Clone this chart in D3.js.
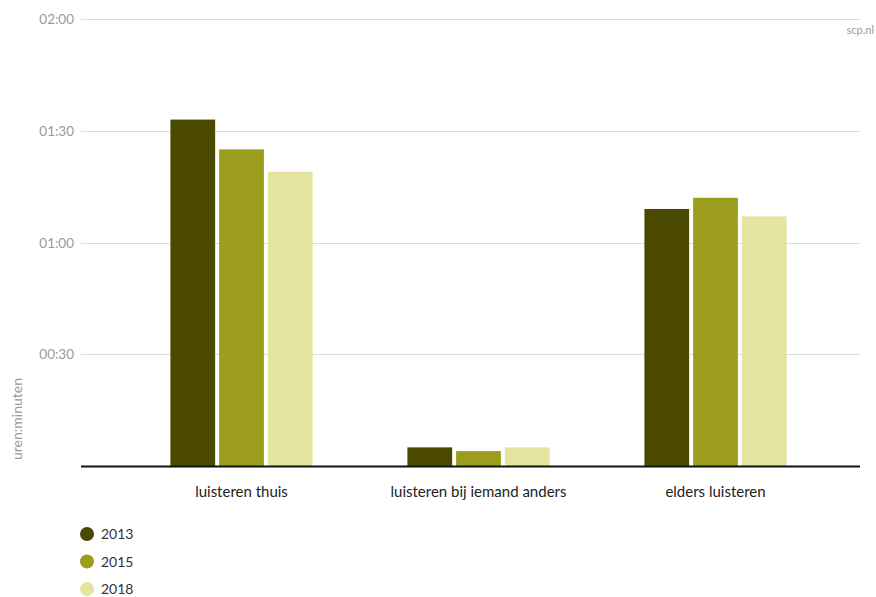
<!DOCTYPE html>
<html><head><meta charset="utf-8">
<script src="https://cdn.jsdelivr.net/npm/d3@7"></script>
<style>body{margin:0;background:#fff}svg{display:block}</style>
</head><body><svg id="c" width="876" height="597"></svg>
<script>
const categories = ["luisteren thuis", "luisteren bij iemand anders", "elders luisteren"];
const years = ["2013", "2015", "2018"];
// minutes
const v2013 = [93, 5, 69];
const v2015 = [85, 4, 72];
const v2018 = [79, 5, 67];
const tickValues = [30, 60, 90, 120];
const tickLabels = ["00:30", "01:00", "01:30", "02:00"];
const colors = ["#4b4900", "#9c9c1d", "#e5e49e"];

const series = [v2013, v2015, v2018];
const svg = d3.select("#c");
const y = d3.scaleLinear().domain([0, 120]).range([466, 19]);
const x0 = d3.scaleBand().domain(categories).range([123, 834]).paddingInner(0.4).paddingOuter(0.2);
const x1 = d3.scaleBand().domain(years).range([0, x0.bandwidth()]).paddingInner(4/49).paddingOuter(0);

const left = 81, right = 860;
// gridlines
svg.append("g").selectAll("line").data(tickValues).join("line")
  .attr("x1", left).attr("x2", right)
  .attr("y1", d => Math.round(y(d)) + 0.5).attr("y2", d => Math.round(y(d)) + 0.5)
  .attr("stroke", "#dcdcdc").attr("stroke-width", 1);
svg.append("g").selectAll("text").data(tickValues).join("text")
  .attr("x", 74).attr("y", d => y(d) + 5)
  .attr("text-anchor", "end").attr("fill", "#9a9a9a")
  .attr("font-family", "Lato, 'Open Sans', sans-serif").attr("font-size", 13.5)
  .text((d, i) => tickLabels[i]);

// bars
const g = svg.append("g");
categories.forEach((c, ci) => {
  years.forEach((yr, yi) => {
    const val = series[yi][ci];
    g.append("rect")
      .attr("x", x0(c) + x1(yr))
      .attr("width", x1.bandwidth())
      .attr("y", y(val))
      .attr("height", y(0) - y(val))
      .attr("fill", colors[yi]);
  });
});

// axis line
svg.append("line").attr("x1", left).attr("x2", right).attr("y1", y(0)+0.5).attr("y2", y(0)+0.5)
  .attr("stroke", "#111").attr("stroke-width", 2);

// category labels
svg.append("g").selectAll("text").data(categories).join("text")
  .attr("x", d => x0(d) + x0.bandwidth()/2).attr("y", 497)
  .attr("text-anchor", "middle").attr("fill", "#222")
  .attr("font-family", "Lato, 'Open Sans', sans-serif").attr("font-size", 15)
  .text(d => d);

// y label
svg.append("text").attr("transform", "translate(22,419) rotate(-90)")
  .attr("text-anchor", "middle").attr("fill", "#9a9a9a")
  .attr("font-family", "Lato, 'Open Sans', sans-serif").attr("font-size", 14)
  .text("uren:minuten");

// source
svg.append("text").attr("x", 874).attr("y", 34).attr("text-anchor", "end")
  .attr("fill", "#9a9a9a").attr("font-family", "Lato, 'Open Sans', sans-serif").attr("font-size", 11)
  .text("scp.nl");

// legend
const lg = svg.append("g").selectAll("g").data(years).join("g")
  .attr("transform", (d, i) => `translate(87,${534 + i*27.5})`);
lg.append("circle").attr("r", 7).attr("fill", (d, i) => colors[i]);
lg.append("text").attr("x", 14).attr("y", 5).attr("fill", "#333")
  .attr("font-family", "Lato, 'Open Sans', sans-serif").attr("font-size", 14)
  .text(d => d);
</script></body></html>
